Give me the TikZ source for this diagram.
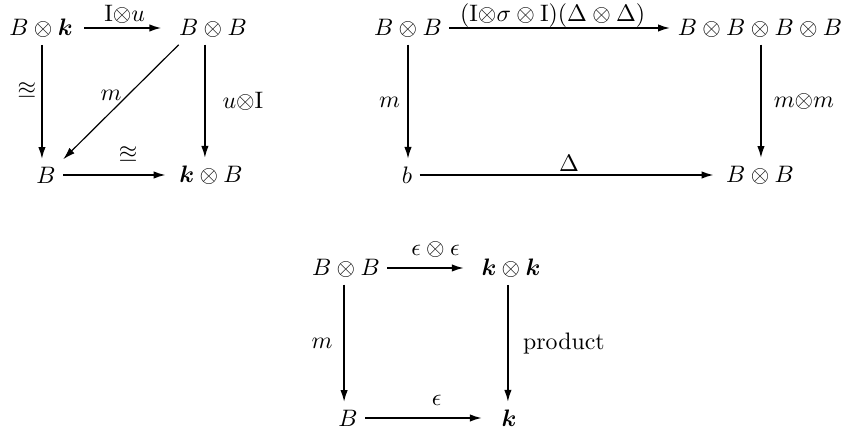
\documentclass[tikz,border=0pt]{standalone}
\usepackage{amsmath,amssymb}
\usepackage{tikz}
\usetikzlibrary{arrows.meta}
\tikzset{
  ar/.style={-{Latex[length=1.8mm,width=1.1mm]},line width=0.8pt},
  obj/.style={inner sep=3pt},
  lab/.style={inner sep=2pt}
}
\newcommand{\bk}{\boldsymbol{k}}

\begin{document}
\begin{tikzpicture}[x=0.42pt,y=-0.42pt]
\useasboundingbox (0,0) rectangle (846,430);
% unit square
\node[obj] (Bk) at (41,28) {$B\otimes\bk$};
\node[obj] (BB1) at (213,28) {$B\otimes B$};
\node[obj] (B1) at (46,175) {$B$};
\node[obj] (kB) at (211,175) {$\bk\otimes B$};
\draw[ar,shorten <=1.7pt,shorten >=4.2pt] (Bk) -- node[lab,above=-0.5pt,xshift=-0.5pt]{$\mathrm{I}{\otimes}u$} (BB1);
\draw[ar] ([xshift=0.4pt]Bk.south) -- node[lab,left,yshift=5pt]{$\approxeq$} ([xshift=0.4pt]Bk.south |- B1.north);
\draw[ar] ([xshift=-3.4pt]BB1.south) -- node[lab,right=5pt]{$u{\otimes}\mathrm{I}$} ([xshift=-3.4pt]BB1.south |- kB.north);
\draw[ar,line width=0.5pt] ([xshift=3pt]BB1.south west) -- node[lab,pos=.49,above left=-2pt]{$m$} (B1.north east);
\draw[ar,shorten >=2.5pt] (B1) -- node[lab,above=3pt,xshift=4.5pt]{$\approxeq$} (kB);
% compatibility square
\node[obj] (BB2) at (408,28) {$B\otimes B$};
\node[obj] (BBBB) at (760,28) {$B\otimes B\otimes B\otimes B$};
\node[obj] (b) at (407,175) {$b$};
\node[obj] (BB3) at (760,175) {$B\otimes B$};
\draw[ar] (BB2) -- node[lab,above=-2pt,xshift=-3pt]{$(\mathrm{I}{\otimes}\sigma\otimes\mathrm{I})(\Delta\otimes\Delta)$} (BBBB);
\draw[ar] (BB2.south) -- node[lab,left=1pt]{$m$} (BB2.south |- b.north);
\draw[ar] ([xshift=0.4pt]BBBB.south) -- node[lab,right=3pt]{$m{\otimes}m$} ([xshift=0.4pt]BBBB.south |- BB3.north);
\draw[ar,shorten >=2pt] (b) -- node[lab,above=-1pt]{$\Delta$} (BB3);
% counit square
\node[obj] (BB4) at (346,268) {$B\otimes B$};
\node[obj] (kk) at (511,268) {$\bk\otimes\bk$};
\node[obj] (B4) at (348,418) {$B$};
\node[obj] (k4) at (509,418) {$\bk$};
\draw[ar,shorten >=4.2pt] (BB4) -- node[lab,above=2pt,xshift=2pt]{$\epsilon\otimes\epsilon$} (kk);
\draw[ar] ([xshift=-0.8pt]BB4.south) -- node[lab,left=2.5pt]{$m$} ([xshift=-0.8pt]BB4.south |- B4.north);
\draw[ar] ([xshift=-1.3pt]kk.south) -- node[lab,right=4pt]{product} ([xshift=-1.3pt]kk.south |- k4.north);
\draw[ar,shorten >=5pt] (B4) -- node[lab,above=3pt,xshift=3pt]{$\epsilon$} (k4);
\end{tikzpicture}
\end{document}
